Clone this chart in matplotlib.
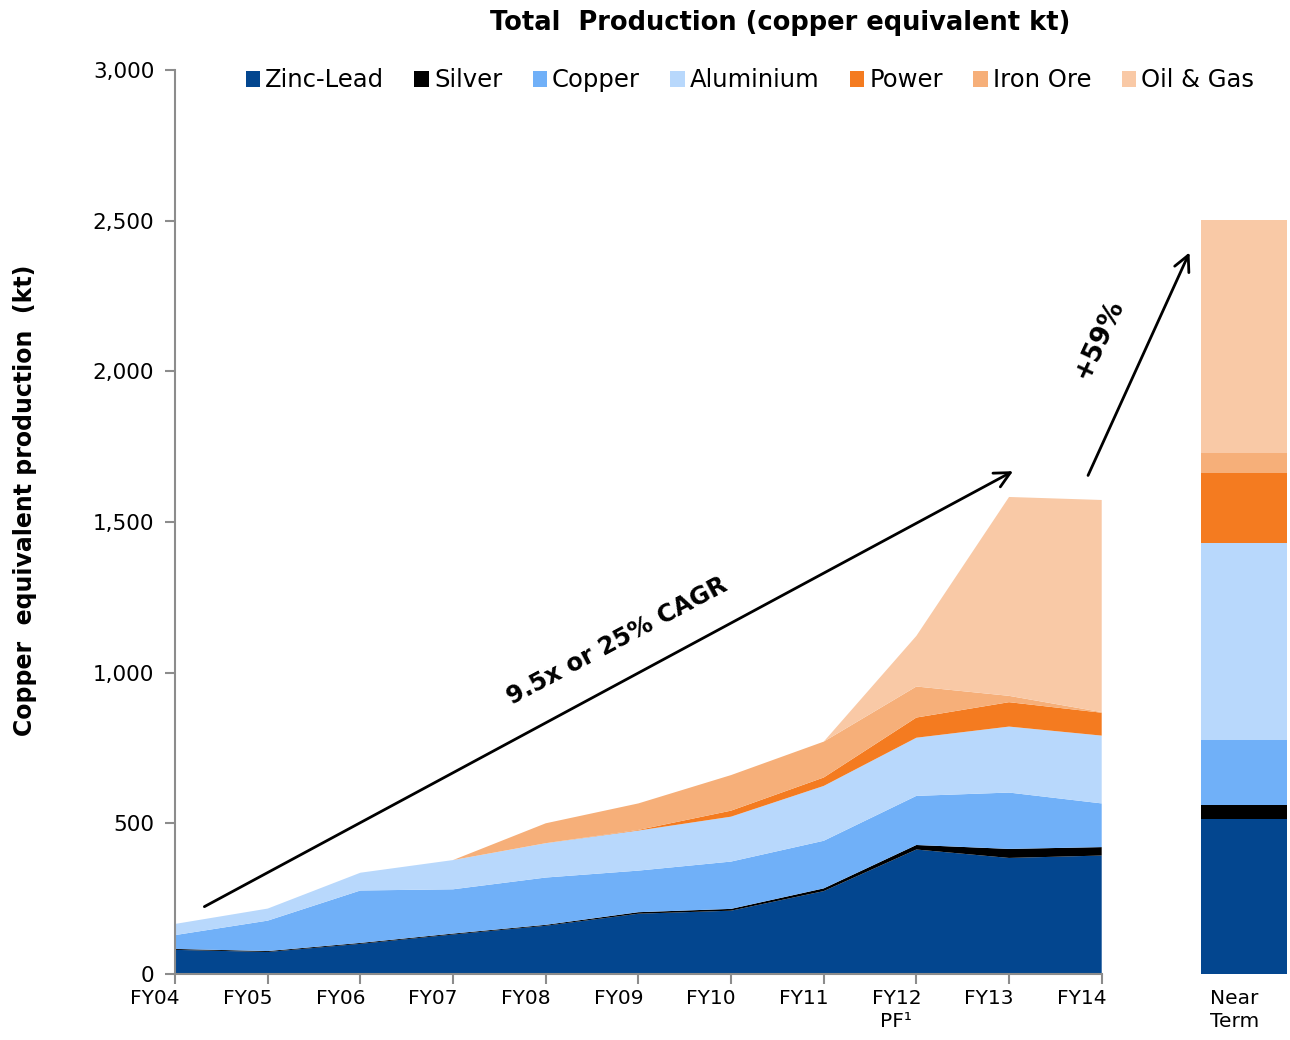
import numpy as np
import matplotlib.pyplot as plt
import matplotlib.transforms as mtransforms
from matplotlib.ticker import FuncFormatter

plt.rcParams['font.family'] = ['DejaVu Sans']

years = ['FY04', 'FY05', 'FY06', 'FY07', 'FY08', 'FY09', 'FY10', 'FY11', 'FY12\nPF\u00b9', 'FY13', 'FY14']
series = ['Zinc-Lead', 'Silver', 'Copper', 'Aluminium', 'Power', 'Iron Ore', 'Oil & Gas']
colors = ['#03468f', '#000000', '#70b0f8', '#b8d8fc', '#f47b20', '#f6af79', '#f9c9a6']

# copper equivalent kt per business, FY04..FY14
zinc_lead = [80, 73, 100, 131, 160, 200, 210, 275, 413, 385, 393]
silver    = [3, 3, 3, 3, 3, 5, 6, 9, 15, 30, 28]
copper    = [46, 101, 174, 147, 157, 138, 157, 158, 163, 187, 145]
aluminium = [37, 40, 59, 97, 114, 133, 149, 182, 193, 219, 225]
power     = [0, 0, 0, 0, 0, 2, 20, 28, 67, 81, 76]
iron_ore  = [0, 0, 0, 0, 66, 88, 118, 119, 103, 21, 2]
oil_gas   = [0, 0, 0, 0, 0, 0, 0, 0, 168, 660, 704]

# near term outlook
near_term_label = 'Near\nTerm'
near_term = [515, 45, 218, 652, 233, 66, 772]

fig = plt.figure(figsize=(12.9, 10.4), dpi=100)
ax = fig.add_axes([0.1357, 0.0635, 0.862, 0.8692])

x = np.arange(len(years))
ax.stackplot(x, zinc_lead, silver, copper, aluminium, power, iron_ore, oil_gas,
             colors=colors, labels=series, lw=0)

nt_x = len(years) + 0.54
bottom = 0
for val, c in zip(near_term, colors):
    ax.bar(nt_x, val, width=0.94, bottom=bottom, color=c, lw=0)
    bottom += val

ax.set_xlim(0, 12.0)
ax.set_ylim(0, 3000)
ax.set_yticks(np.arange(0, 3001, 500))
ax.yaxis.set_major_formatter(FuncFormatter(lambda v, p: f'{v:,.0f}'))

# category labels sit a little left of their tick marks
ax.set_xticks(x)
ax.set_xticklabels([])
xt = ax.get_xaxis_transform()
lab_shift = mtransforms.ScaledTranslation(-20 / 100, -15 / 100, fig.dpi_scale_trans)
for xi, lab in zip(x, years):
    ax.text(xi, 0, lab, transform=xt + lab_shift, ha='center', va='top',
            fontsize=14.5, linespacing=1.3)
nt_shift = mtransforms.ScaledTranslation(-10 / 100, -15 / 100, fig.dpi_scale_trans)
ax.text(nt_x, 0, near_term_label, transform=xt + nt_shift, ha='center', va='top',
        fontsize=14.5, linespacing=1.3)

for s in ['top', 'right']:
    ax.spines[s].set_visible(False)
for s in ['left', 'bottom']:
    ax.spines[s].set_color('#8c8c8c')
    ax.spines[s].set_linewidth(1.5)
ax.spines['bottom'].set_bounds(0, 10)
ax.tick_params(axis='y', labelsize=15.5, length=7, width=1.5, color='#8c8c8c', pad=8)
ax.tick_params(axis='x', length=7, width=1.5, color='#8c8c8c')

ax.set_ylabel('Copper  equivalent production  (kt)', fontsize=17, fontweight='bold')
ax.yaxis.set_label_coords(-0.124, 0.524)
fig.text(0.605, 0.978, 'Total  Production (copper equivalent kt)', fontsize=18.5,
         fontweight='bold', ha='center', va='center')

ax.legend(ncol=7, loc='upper right', bbox_to_anchor=(0.99, 1.026), frameon=False,
          fontsize=17.5, handlelength=0.6, handleheight=0.6, handletextpad=0.2,
          columnspacing=1.25)

# growth arrows
ax.annotate('', xy=(9.07, 1673), xytext=(0.29, 219),
            arrowprops=dict(arrowstyle='->', lw=2, color='black', mutation_scale=28))
ax.annotate('', xy=(10.96, 2403), xytext=(9.84, 1646),
            arrowprops=dict(arrowstyle='->', lw=2, color='black', mutation_scale=28))
ax.text(4.77, 1105, '9.5x or 25% CAGR', rotation=28, fontsize=17.5, fontweight='bold',
        ha='center', va='center', rotation_mode='anchor')
ax.text(9.97, 2105, '+59%', rotation=65, fontsize=19, fontweight='bold',
        ha='center', va='center', rotation_mode='anchor')

fig.savefig('out.png', dpi=100)
